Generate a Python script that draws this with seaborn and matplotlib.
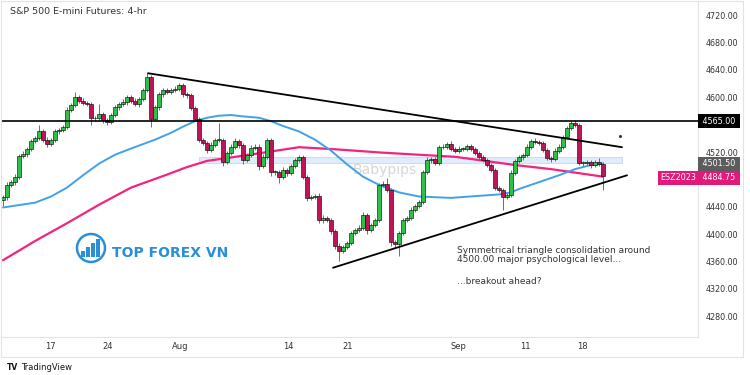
import numpy as np
import pandas as pd
import seaborn as sns
import matplotlib
matplotlib.use("Agg")
import matplotlib.pyplot as plt
from matplotlib.patches import Rectangle, Circle

sns.set_theme(style="white")
plt.rcParams['font.family'] = ['DejaVu Sans']

# ---------------- data ----------------
first_open = 4450
closes = [
    4454, 4472, 4476, 4484, 4514, 4517, 4525, 4536, 4540, 4550,
    4538, 4532, 4538, 4550, 4552, 4556, 4582, 4588, 4600, 4595,
    4592, 4590, 4569, 4570, 4576, 4566, 4564, 4574, 4585, 4590,
    4593, 4600, 4595, 4590, 4598, 4610, 4630, 4568, 4585, 4604,
    4610, 4608, 4610, 4612, 4618, 4604, 4603, 4584, 4568, 4538,
    4533, 4523, 4530, 4538, 4538, 4505, 4518, 4528, 4536, 4530,
    4508, 4516, 4526, 4528, 4500, 4513, 4537, 4491, 4491, 4483,
    4494, 4489, 4500, 4508, 4512, 4484, 4453, 4454, 4456, 4420,
    4424, 4421, 4404, 4383, 4376, 4381, 4387, 4402, 4406, 4409,
    4428, 4406, 4414, 4421, 4472, 4474, 4465, 4388, 4386, 4402,
    4421, 4424, 4436, 4441, 4447, 4491, 4508, 4510, 4504, 4527,
    4527, 4532, 4524, 4522, 4525, 4525, 4529, 4525, 4519, 4512,
    4508, 4501, 4494, 4467, 4465, 4455, 4457, 4490, 4507, 4512,
    4516, 4527, 4536, 4535, 4533, 4523, 4511, 4510, 4522, 4528,
    4542, 4555, 4562, 4560, 4504, 4504, 4505, 4501, 4506, 4503,
    4484.75,
]
up_wick = [
    3, 4, 3, 4, 3, 5, 3, 3, 4, 9,
    3, 4, 3, 3, 3, 4, 3, 3, 8, 3,
    4, 3, 3, 3, 14, 3, 3, 3, 3, 3,
    4, 3, 3, 4, 3, 3, 5, 3, 3, 4,
    4, 3, 3, 4, 3, 3, 3, 3, 3, 3,
    3, 3, 4, 3, 24, 3, 3, 3, 4, 3,
    3, 3, 4, 3, 3, 4, 3, 3, 3, 3,
    4, 3, 3, 3, 3, 3, 3, 3, 3, 4,
    4, 3, 3, 3, 4, 3, 3, 3, 3, 4,
    4, 3, 3, 3, 3, 4, 8, 3, 3, 3,
    3, 3, 4, 3, 3, 3, 4, 3, 3, 3,
    4, 3, 4, 3, 4, 3, 3, 3, 3, 3,
    3, 3, 3, 3, 3, 3, 3, 3, 3, 4,
    3, 4, 3, 4, 3, 3, 3, 3, 4, 3,
    3, 3, 3, 4, 3, 3, 4, 3, 3, 5,
    3,
]
dn_wick = [
    9, 4, 3, 4, 3, 3, 4, 3, 3, 3,
    4, 4, 3, 3, 3, 3, 3, 3, 3, 3,
    3, 3, 10, 4, 3, 4, 5, 3, 3, 4,
    3, 4, 3, 3, 4, 3, 3, 12, 3, 3,
    3, 4, 3, 3, 3, 3, 4, 3, 3, 4,
    3, 4, 3, 3, 3, 5, 3, 3, 3, 4,
    5, 3, 3, 3, 6, 3, 3, 6, 4, 8,
    3, 4, 3, 3, 3, 4, 5, 3, 3, 3,
    3, 3, 4, 5, 15, 3, 3, 3, 3, 3,
    3, 6, 3, 3, 3, 3, 3, 5, 4, 18,
    3, 3, 3, 4, 3, 3, 3, 4, 3, 3,
    3, 3, 3, 3, 3, 3, 4, 3, 3, 3,
    3, 3, 3, 3, 4, 20, 4, 3, 3, 3,
    3, 3, 3, 3, 3, 3, 3, 4, 3, 3,
    3, 3, 3, 3, 3, 4, 3, 4, 3, 3,
    20,
]

# moving averages sampled along the candle index
blue_idx = [0, 8, 12, 16, 20, 24, 28, 32, 38, 42, 45, 48, 51, 54, 57, 60, 64, 67,
            70, 74, 78, 82, 86, 90, 94, 99, 104, 112, 119, 124, 127, 129, 134, 139,
            143, 147, 150]
blue_val = [4439, 4446, 4455, 4468, 4486, 4503, 4516, 4525, 4538, 4548, 4557, 4565,
            4570, 4573, 4574, 4572, 4570, 4565, 4558, 4550, 4538, 4522, 4502, 4484,
            4472, 4461, 4455, 4453, 4456, 4458, 4461, 4466, 4476, 4486, 4495, 4501, 4503]
pink_idx = [0, 8, 16, 24, 32, 41, 46, 51, 57, 65, 74, 83, 95, 113, 128, 137, 150]
pink_val = [4362, 4390, 4416, 4443, 4468, 4487, 4498, 4507, 4512, 4519, 4527, 4524,
            4519, 4513, 4501, 4495, 4484]

date_labels = ["17", "24", "Aug", "14", "21", "Sep", "11", "18"]
date_pos = [11.75, 26.25, 44.25, 71.25, 86.25, 113.75, 130.5, 144.75]
price_ticks = [4720, 4680, 4640, 4600, 4520, 4440, 4400, 4360, 4320, 4280]

resistance = 4565.00
last_price = 4484.75
ma_price = 4501.50
symbol = "ESZ2023"
zone_low, zone_high = 4504, 4513
zone_start, zone_end = 49, 154.75
upper_tl = ([36.25, 154.75], [4635, 4527])
lower_tl = ([82.5, 156.0], [4351, 4486])

title = "S&P 500 E-mini Futures: 4-hr"
note1 = "Symmetrical triangle consolidation around\n4500.00 major psychological level..."
note2 = "...breakout ahead?"

# ---------------- figure ----------------
W, H = 750, 375
fig = plt.figure(figsize=(7.5, 3.75), dpi=100)
fig.patch.set_facecolor("white")

def fx(px):
    return px / W

def fy(py):
    return 1 - py / H

ax = fig.add_axes([fx(1), fy(337), fx(698) - fx(1), fy(2) - fy(337)])
ax.set_facecolor("white")
ax.set_xlim(-0.5, 173.75)
ax.set_ylim(4249.9, 4739.0)

# zone rectangle
ax.add_patch(Rectangle((zone_start, zone_low), zone_end - zone_start, zone_high - zone_low,
                       facecolor="#dbeafb", edgecolor="#b9d8f3", lw=0.6, alpha=0.9, zorder=1))

# watermark
ax.text(95.5, 4494, "Babypips", fontsize=10, color="#d6d6d6", ha="center", va="center", zorder=1)

# moving averages
sns.lineplot(x=pink_idx, y=pink_val, ax=ax, color="#f2247f", lw=1.6, zorder=2, sort=False)
sns.lineplot(x=blue_idx, y=blue_val, ax=ax, color="#42a0ea", lw=1.4, zorder=2, sort=False)

# candles
opens = [first_open] + closes[:-1]
for i, (o, c, u, d) in enumerate(zip(opens, closes, up_wick, dn_wick)):
    hi = max(o, c) + u
    lo = min(o, c) - d
    ax.vlines(i, lo, hi, color="#6e6e6e", lw=0.7, zorder=3)
    bottom = min(o, c)
    height = max(abs(c - o), 0.8)
    col = "#2fbf4a" if c >= o else "#bd1558"
    ax.bar(i, height, bottom=bottom, width=0.85, color=col, edgecolor="black",
           lw=0.4, zorder=4)

# horizontal resistance and trendlines
ax.axhline(resistance, color="black", lw=1.2, zorder=5)
ax.plot(upper_tl[0], upper_tl[1], color="black", lw=1.3, zorder=5)
ax.plot(lower_tl[0], lower_tl[1], color="black", lw=1.3, zorder=5)
ax.plot([154.25], [4543], marker="o", ms=1.2, color="#333", zorder=5)

# axes styling
for s in ["left", "top"]:
    ax.spines[s].set_visible(False)
for s in ["right", "bottom"]:
    ax.spines[s].set_color("#e0e3eb")
    ax.spines[s].set_linewidth(0.8)
ax.yaxis.tick_right()
ax.set_yticks(price_ticks)
ax.set_yticklabels([f"{v:.2f}" for v in price_ticks])
ax.tick_params(axis="y", length=0, pad=5.5, labelsize=5.8, labelcolor="#333333")
ax.set_xticks(date_pos)
ax.set_xticklabels(date_labels)
ax.tick_params(axis="x", length=0, pad=3.5, labelsize=6, labelcolor="#333333")
ax.grid(False)

# price boxes on the right axis
def price_box(y, txt, bg, x_axes=1.0, ha="left"):
    ax.text(x_axes, y, txt, transform=ax.get_yaxis_transform(), fontsize=5.8,
            color="white", ha=ha, va="center", clip_on=False, zorder=10,
            bbox=dict(boxstyle="square,pad=0.3", facecolor=bg, edgecolor="none"))

price_box(resistance, f" {resistance:.2f} ", "black", 1.003)
price_box(ma_price + 1.5, f" {ma_price:.2f} ", "#5c5c5c", 1.003)
price_box(last_price - 2.5, f" {last_price:.2f} ", "#e3197a", 1.003)
price_box(last_price - 2.5, f"{symbol}", "#e3197a", 0.997, ha="right")

# overlay in pixel coordinates for the decorations
ov = fig.add_axes([0, 0, 1, 1], facecolor="none")
ov.set_xlim(0, W)
ov.set_ylim(H, 0)
ov.axis("off")
ov.add_patch(Rectangle((1, 1), 742, 356, fill=False, edgecolor="#e0e3eb", lw=0.8))

ov.text(10, 11, title, fontsize=6.8, color="#333333", ha="left", va="center")
ov.text(457, 255, note1, fontsize=6.5, color="#333333", ha="left", va="center",
        linespacing=1.05)
ov.text(457, 281, note2, fontsize=6.5, color="#333333", ha="left", va="center")

# TOP FOREX VN logo
logo_c = "#2a8fd4"
ov.add_patch(Circle((91, 248), 14, fill=False, edgecolor=logo_c, lw=1.8))
for bx, bh in zip([83, 88, 93, 98], [6, 10, 14, 18]):
    ov.add_patch(Rectangle((bx - 1.8, 257 - bh), 3.6, bh, facecolor=logo_c, edgecolor="none"))
ov.text(112, 253, "TOP FOREX VN", fontsize=10, fontweight="bold", color=logo_c,
        ha="left", va="center")

# TradingView footer
ov.text(7, 367, "TV", fontsize=5.5, fontweight="bold", color="#131722", ha="left", va="center")
ov.text(21, 367, "TradingView", fontsize=6, color="#131722", ha="left", va="center")

fig.savefig("out.png", dpi=100, facecolor="white")
